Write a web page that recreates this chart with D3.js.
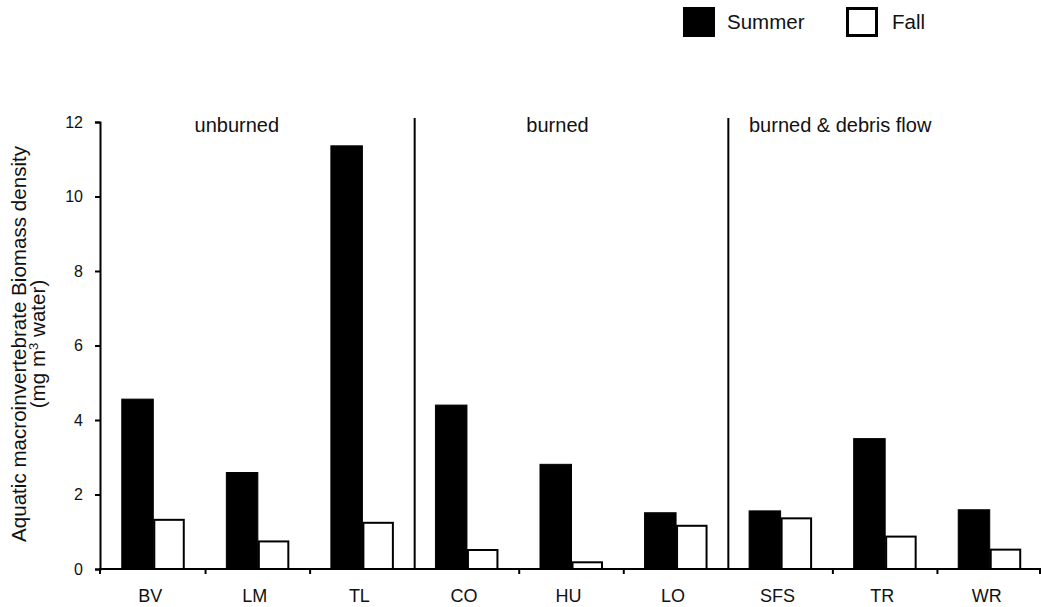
<!DOCTYPE html>
<html>
<head>
<meta charset="utf-8">
<script src="https://cdn.jsdelivr.net/npm/d3@7"></script>
<style>
  html, body { margin: 0; padding: 0; background: #fff; }
  svg { display: block; font-family: "Liberation Sans", Arial, Helvetica, sans-serif; }
</style>
</head>
<body>
<svg id="chart" width="1041" height="607"></svg>
<script>
// ---- data ----
const categories = ["BV", "LM", "TL", "CO", "HU", "LO", "SFS", "TR", "WR"];
const series = ["Summer", "Fall"];
const summerValues = [4.56, 2.59, 11.36, 4.40, 2.81, 1.51, 1.56, 3.50, 1.59];
const fallValues = [1.32, 0.74, 1.24, 0.51, 0.18, 1.16, 1.36, 0.87, 0.52];
const groupNames = ["unburned", "burned", "burned & debris flow"];
const groupMembers = [["BV", "LM", "TL"], ["CO", "HU", "LO"], ["SFS", "TR", "WR"]];
const yTicks = [0, 2, 4, 6, 8, 10, 12];
const yTitle = "Aquatic macroinvertebrate Biomass density";

// ---- layout ----
const svg = d3.select("#chart");
const axisX = 100, baseY = 569, topY = 122;
const x0 = d3.scaleBand().domain(categories).range([101, 1042]).padding(0);
const bw = x0.bandwidth();
const x1 = d3.scaleBand().domain(series).range([0, bw]).paddingInner(0).paddingOuter(0.66);
const y = d3.scaleLinear().domain([0, 12]).range([baseY, topY]);

const valuesBySeries = { Summer: summerValues, Fall: fallValues };

// bars
series.forEach(s => {
  const g = svg.append("g");
  g.selectAll("rect").data(categories.map((c, i) => ({ c, v: valuesBySeries[s][i] })))
    .enter().append("rect")
    .attr("x", d => s === "Summer" ? x0(d.c) + x1(s) : x0(d.c) + x1(s) + 1)
    .attr("y", d => y(d.v))
    .attr("width", s === "Summer" ? x1.bandwidth() : x1.bandwidth() - 2)
    .attr("height", d => baseY - y(d.v))
    .attr("fill", s === "Summer" ? "#000" : "#fff")
    .attr("stroke", "#000")
    .attr("stroke-width", s === "Summer" ? 1 : 2);
});

// group separators
const sepCats = groupMembers.slice(1).map(m => m[0]);
svg.selectAll(".sep").data(sepCats).enter().append("line")
  .attr("x1", d => x0(d)).attr("x2", d => x0(d))
  .attr("y1", 118).attr("y2", baseY)
  .attr("stroke", "#000").attr("stroke-width", 2);

// group labels
const groupLabelOffsets = [-21, -14, -45];
svg.selectAll(".glab").data(groupNames).enter().append("text")
  .attr("x", (d, i) => {
    const m = groupMembers[i];
    return (x0(m[0]) + x0(m[m.length - 1]) + bw) / 2 + groupLabelOffsets[i];
  })
  .attr("y", 132)
  .attr("text-anchor", "middle")
  .attr("font-size", 20)
  .attr("fill", "#111")
  .text(d => d);

// x axis line
svg.append("line").attr("x1", axisX - 1).attr("x2", 1041)
  .attr("y1", baseY).attr("y2", baseY).attr("stroke", "#000").attr("stroke-width", 2);
// x ticks at category boundaries (not at group separators)
const boundaries = categories.slice(1).filter(c => !sepCats.includes(c)).map(c => x0(c));
boundaries.push(x0.range()[1] - 2);
svg.selectAll(".xt").data(boundaries).enter().append("line")
  .attr("x1", d => d).attr("x2", d => d)
  .attr("y1", baseY).attr("y2", baseY + 5)
  .attr("stroke", "#000").attr("stroke-width", 2);
svg.append("line").attr("x1", axisX).attr("x2", axisX)
  .attr("y1", baseY).attr("y2", baseY + 5).attr("stroke", "#000").attr("stroke-width", 2);

// category labels
svg.selectAll(".xl").data(categories).enter().append("text")
  .attr("x", d => x0(d) + bw / 2 - 3)
  .attr("y", 602)
  .attr("text-anchor", "middle")
  .attr("font-size", 18)
  .attr("fill", "#111")
  .text(d => d);

// y axis
const yAxis = d3.axisLeft(y).tickValues(yTicks).tickSize(5).tickPadding(12).tickFormat(d3.format("d"));
const ya = svg.append("g").attr("transform", `translate(${axisX},0)`).call(yAxis);
ya.select(".domain").attr("stroke", "#000").attr("stroke-width", 2);
ya.selectAll(".tick line").attr("stroke", "#000").attr("stroke-width", 2);
ya.selectAll(".tick text").attr("font-size", 16).attr("fill", "#111")
  .attr("font-family", "'Liberation Sans', Arial, Helvetica, sans-serif");

// y title
const yt = svg.append("text")
  .attr("transform", "translate(26,344) rotate(-90)")
  .attr("text-anchor", "middle")
  .attr("font-size", 20.6)
  .attr("fill", "#111");
yt.append("tspan").attr("x", 0).attr("y", 0).text(yTitle);
const yt2 = svg.append("text")
  .attr("transform", "translate(45,344) rotate(-90)")
  .attr("text-anchor", "middle")
  .attr("font-size", 20.6)
  .attr("fill", "#111");
yt2.append("tspan").text("(mg m");
yt2.append("tspan").attr("dy", -7).attr("font-size", 13).text("3");
yt2.append("tspan").attr("dy", 7).text(" water)");

// legend
const legendX = [683, 846];
const lg = svg.selectAll(".lg").data(series).enter().append("g")
  .attr("transform", (d, i) => `translate(${legendX[i]},7)`);
lg.append("rect")
  .attr("x", (d, i) => i === 0 ? 0 : 1.5).attr("y", (d, i) => i === 0 ? 0 : 1.5)
  .attr("width", (d, i) => i === 0 ? 32 : 29).attr("height", (d, i) => i === 0 ? 30 : 27)
  .attr("fill", (d, i) => i === 0 ? "#000" : "#fff")
  .attr("stroke", "#000").attr("stroke-width", (d, i) => i === 0 ? 0 : 3);
lg.append("text").attr("x", (d, i) => i === 0 ? 44 : 46).attr("y", 22)
  .attr("font-size", 20.5).attr("fill", "#111").text(d => d);
</script>
</body>
</html>
